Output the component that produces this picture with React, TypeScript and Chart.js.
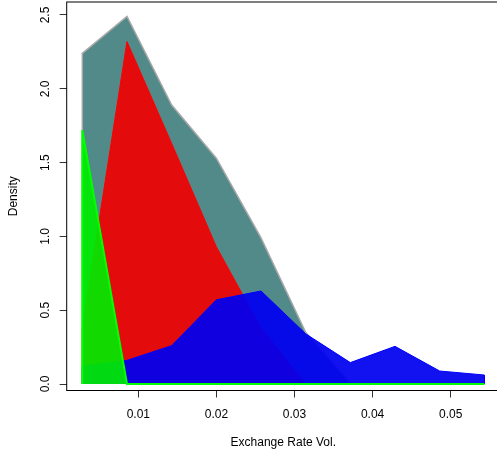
import React, { useEffect, useRef } from "react";
import { Chart, registerables } from "chart.js";

Chart.register(...registerables);

// Evaluation points of the densities (Exchange Rate Vol.)
const xVals = [0.00283, 0.00855, 0.01427, 0.01999, 0.02571, 0.03143, 0.03715, 0.04287, 0.04859, 0.05431];
// Density values per group
const grayDensity = [2.24, 2.49, 1.89, 1.53, 0.99, 0.35, 0.0, 0.0, 0.0, 0.0];
const redDensity = [0.38, 2.32, 1.63, 0.93, 0.38, 0.0, 0.0, 0.0, 0.0, 0.0];
const blueDensity = [0.12, 0.16, 0.26, 0.57, 0.63, 0.34, 0.145, 0.255, 0.088, 0.061];
const greenDensity = [1.72, 0.0, 0.0, 0.0, 0.0, 0.0, 0.0, 0.0, 0.0, 0.0];

const xTicks = [0.01, 0.02, 0.03, 0.04, 0.05];
const yTicks = [0, 0.5, 1, 1.5, 2, 2.5];

const polygon = (ys: number[]) => [
  { x: xVals[0], y: 0 },
  ...xVals.map((x, i) => ({ x, y: ys[i] })),
  { x: xVals[xVals.length - 1], y: 0 },
];

const boxPlugin = {
  id: "box",
  afterDraw(chart: any) {
    const { ctx, chartArea: a } = chart;
    ctx.save();
    ctx.strokeStyle = "#000";
    ctx.lineWidth = 1;
    ctx.strokeRect(a.left, a.top, a.right - a.left, a.bottom - a.top);
    ctx.restore();
  },
};

export default function App() {
  const ref = useRef<HTMLCanvasElement | null>(null);

  useEffect(() => {
    if (!ref.current) return;
    Chart.defaults.font.family = "'Liberation Sans', Arial, Helvetica, sans-serif";
    Chart.defaults.font.size = 12;
    Chart.defaults.color = "#000";

    const ds = (label: string, ys: number[], fill: string, border: string, bw: number) => ({
      label,
      data: polygon(ys),
      backgroundColor: fill,
      borderColor: border,
      borderWidth: bw,
      fill: "origin",
      tension: 0,
      pointRadius: 0,
    });

    const chart = new Chart(ref.current, {
      type: "line",
      data: {
        datasets: [
          ds("green", greenDensity, "rgba(0,235,0,0.92)", "#00ff00", 2),
          ds("blue", blueDensity, "rgba(0,0,240,0.93)", "#0000ff", 1),
          ds("red", redDensity, "rgba(240,0,0,0.92)", "#ff0000", 1),
          ds("gray", grayDensity, "#528a8a", "#a8a8a8", 1.5),
        ],
      },
      options: {
        animation: false,
        responsive: false,
        devicePixelRatio: 1,
        layout: { padding: { top: 2, left: 0, right: 10.1, bottom: 0 } },
        plugins: {
          legend: { display: false },
          tooltip: { enabled: false },
        },
        scales: {
          x: {
            type: "linear",
            min: 0.00083,
            max: 0.0563,
            afterBuildTicks: (axis: any) => {
              axis.ticks = xTicks.map((v) => ({ value: v }));
            },
            afterFit: (s: any) => {
              s.height = 68.5;
              s.paddingLeft = 0;
              s.paddingRight = 0;
            },
            grid: { drawOnChartArea: false, drawTicks: true, tickLength: 7, color: "#333", lineWidth: 1 },
            border: { display: false },
            ticks: {
              padding: 10,
              color: "#000",
              autoSkip: false,
              maxRotation: 0,
              minRotation: 0,
              callback: (v: any) => Number(v).toFixed(2),
            },
            title: {
              display: true,
              text: "Exchange Rate Vol.",
              color: "#000",
              padding: { top: 0, bottom: 8.8 },
            },
          },
          y: {
            type: "linear",
            min: -0.044,
            max: 2.588,
            afterBuildTicks: (axis: any) => {
              axis.ticks = yTicks.map((v) => ({ value: v }));
            },
            afterFit: (s: any) => {
              s.width = 66.7;
              s.paddingTop = 0;
              s.paddingBottom = 0;
            },
            grid: { drawOnChartArea: false, drawTicks: true, tickLength: 7, color: "#333", lineWidth: 1 },
            border: { display: false },
            ticks: {
              padding: 6,
              color: "#000",
              autoSkip: false,
              crossAlign: "center",
              minRotation: 90,
              maxRotation: 90,
              callback: (v: any) => Number(v).toFixed(1),
            },
            title: {
              display: true,
              text: "Density",
              color: "#000",
              padding: { top: 6.1, bottom: 0 },
            },
          },
        },
      } as any,
      plugins: [boxPlugin],
    });

    return () => chart.destroy();
  }, []);

  return (
    <div
      style={{
        position: "fixed",
        left: 0,
        top: 0,
        width: 497,
        height: 459,
        overflow: "hidden",
        background: "#fff",
      }}
    >
      <canvas ref={ref} width={510} height={459} style={{ display: "block", width: 510, height: 459 }} />
    </div>
  );
}
